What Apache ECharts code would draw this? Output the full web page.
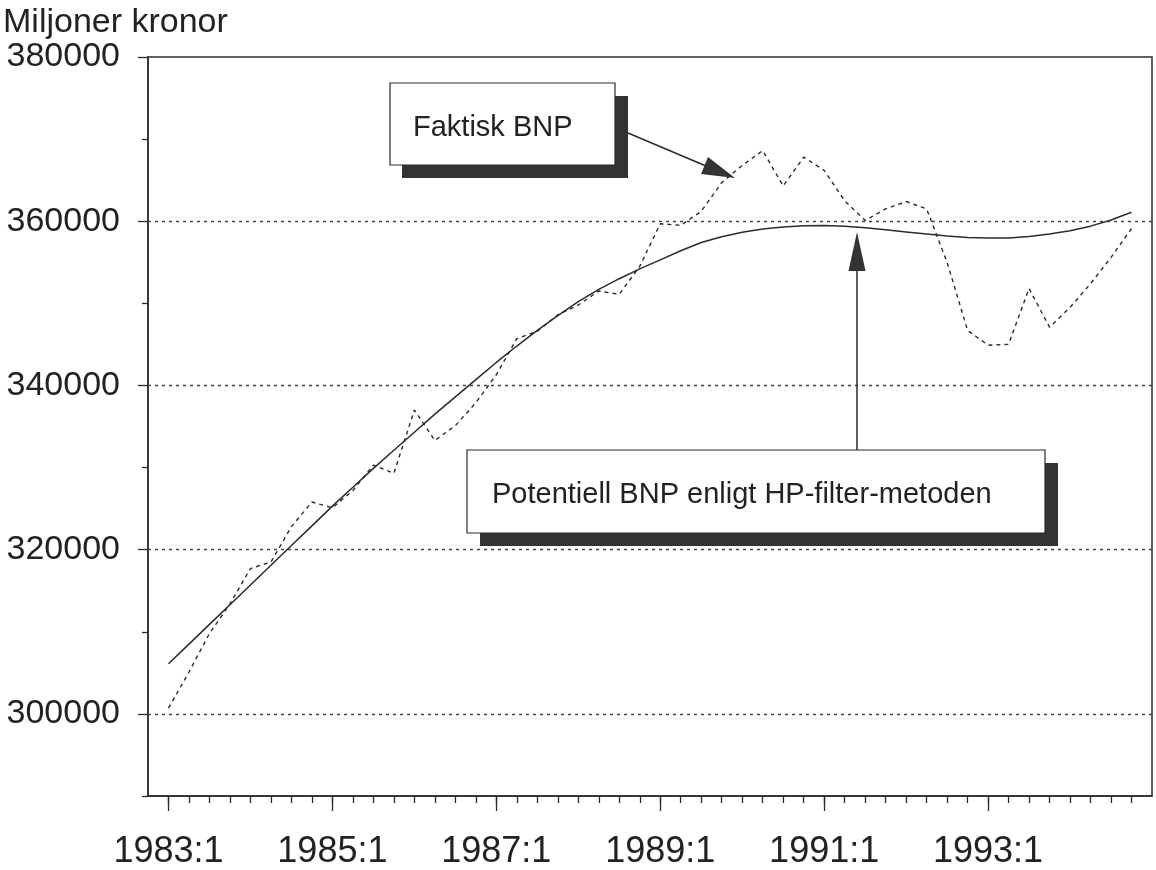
<!DOCTYPE html>
<html>
<head>
<meta charset="utf-8">
<script src="https://cdn.jsdelivr.net/npm/echarts@6/dist/echarts.min.js"></script>
<style>
html,body{margin:0;padding:0;background:#fff;}
#chart{width:1156px;height:870px;}
</style>
</head>
<body>
<div id="chart"></div>
<script>
// ---- data ----
const quarters = [];
for (let y = 1983; y <= 1994; y++) { for (let q = 1; q <= 4; q++) quarters.push(y + ':' + q); }
const faktisk = [
  300700, 305100, 309800, 313400, 317700, 318500, 322800, 325800,
  325100, 327200, 330300, 329300, 337000, 333300, 335100, 337900,
  341300, 345700, 346600, 348600, 349800, 351500, 351100, 354500,
  359700, 359500, 361200, 364700, 366800, 368600, 364300, 367800,
  366200, 362500, 360100, 361500, 362400, 361500, 355000, 346700,
  344900, 345000, 351800, 347100, 349500, 352400, 355600, 359100
];
const potentiell = [
  306100, 308500, 310900, 313300, 315700, 318100, 320500, 322900,
  325300, 327600, 329900, 332100, 334300, 336500, 338600, 340700,
  342800, 344800, 346700, 348500, 350200, 351700, 353000, 354200,
  355300, 356400, 357400, 358100, 358650, 359050, 359300, 359450,
  359480, 359400, 359200, 358950, 358700, 358450, 358200, 358020,
  357950, 357970, 358150, 358450, 358850, 359400, 360150, 361100
];
const xTickLabels = ['1983:1', '1985:1', '1987:1', '1989:1', '1991:1', '1993:1'];
const yTickLabels = [300000, 320000, 340000, 360000, 380000];
const yMinorTicks = [290000, 310000, 330000, 350000, 370000];
const gridValues = [300000, 320000, 340000, 360000];
const yTitle = 'Miljoner kronor';
const labelFaktisk = 'Faktisk BNP';
const labelPotentiell = 'Potentiell BNP enligt HP-filter-metoden';

// ---- chart ----
const INK = '#2b2b2b';
const FONT = '"Liberation Sans", Arial, Helvetica, sans-serif';
const majorIdx = xTickLabels.map(l => quarters.indexOf(l));
const allIdx = quarters.map((q, i) => i);

const chart = echarts.init(document.getElementById('chart'), null, { renderer: 'canvas' });
const axisLineStyle = { color: INK, width: 1.5 };

chart.setOption({
  animation: false,
  backgroundColor: '#fff',
  title: {
    text: yTitle, left: -2, top: 1,
    textStyle: { fontFamily: FONT, fontSize: 34, fontWeight: 'normal', color: '#222' }
  },
  grid: { left: 148, right: 4, top: 57, bottom: 74, show: true, borderColor: INK, borderWidth: 1.5, containLabel: false },
  xAxis: [
    {
      type: 'value', min: -1, max: 48, position: 'bottom',
      axisLine: { show: true, onZero: false, lineStyle: axisLineStyle },
      axisTick: { show: true, customValues: allIdx, length: 7, lineStyle: { color: INK, width: 1.3 } },
      axisLabel: { show: false },
      splitLine: { show: false }
    },
    {
      type: 'value', min: -1, max: 48, position: 'bottom',
      axisLine: { show: false, onZero: false },
      axisTick: { show: true, customValues: majorIdx, length: 15, lineStyle: { color: INK, width: 1.3 } },
      axisLabel: {
        show: true, customValues: majorIdx, margin: 38,
        formatter: v => quarters[Math.round(v)] || '',
        fontFamily: FONT, fontSize: 36, color: '#222'
      },
      splitLine: { show: false }
    }
  ],
  yAxis: [
    {
      type: 'value', min: 290000, max: 380000, interval: 10000, position: 'left',
      axisLine: { show: true, onZero: false, lineStyle: axisLineStyle },
      axisTick: { show: true, customValues: yTickLabels, length: 10, lineStyle: { color: INK, width: 1.3 } },
      axisLabel: {
        show: true, customValues: yTickLabels, margin: 28,
        padding: [6, 0, 0, 0],
        formatter: v => String(v),
        fontFamily: FONT, fontSize: 34, color: '#222'
      },
      splitLine: { show: false }
    },
    {
      type: 'value', min: 290000, max: 380000, interval: 10000, position: 'left',
      axisLine: { show: false, onZero: false },
      axisTick: { show: true, customValues: yMinorTicks, length: 6, lineStyle: { color: INK, width: 1.3 } },
      axisLabel: { show: false },
      splitLine: { show: false }
    }
  ],
  series: [
    {
      name: labelPotentiell, type: 'line', xAxisIndex: 0, yAxisIndex: 0,
      data: potentiell.map((v, i) => [i, v]),
      showSymbol: false, smooth: false,
      lineStyle: { color: INK, width: 1.5 },
      markLine: {
        silent: true, symbol: ['none', 'none'], label: { show: false },
        lineStyle: { color: '#444', width: 1.3, type: [3, 4] },
        data: gridValues.map(v => ({ yAxis: v }))
      },
      z: 3
    },
    {
      name: labelFaktisk, type: 'line', xAxisIndex: 0, yAxisIndex: 0,
      data: faktisk.map((v, i) => [i, v]),
      showSymbol: false,
      lineStyle: { color: INK, width: 1.4, type: [4, 4] },
      z: 4
    }
  ],
  graphic: [
    // Box 1: Faktisk BNP
    { type: 'rect', shape: { x: 402, y: 96, width: 226, height: 82 }, style: { fill: '#333' }, z: 10 },
    { type: 'line', shape: { x1: 628, y1: 133, x2: 706, y2: 166 }, style: { stroke: INK, lineWidth: 1.5 }, z: 10 },
    { type: 'polygon', shape: { points: [[735, 178], [701, 174], [708, 157]] }, style: { fill: '#333' }, z: 10 },
    { type: 'rect', shape: { x: 390, y: 83, width: 225, height: 82 }, style: { fill: '#fff', stroke: INK, lineWidth: 1.2 }, z: 11 },
    { type: 'text', style: { text: labelFaktisk, x: 413, y: 128, font: '29px ' + FONT, fill: '#222', verticalAlign: 'middle' }, z: 12 },
    // Box 2: Potentiell BNP
    { type: 'line', shape: { x1: 857, y1: 450, x2: 857, y2: 268 }, style: { stroke: INK, lineWidth: 1.5 }, z: 10 },
    { type: 'polygon', shape: { points: [[857, 232], [848.5, 271], [865.5, 271]] }, style: { fill: '#333' }, z: 10 },
    { type: 'rect', shape: { x: 480, y: 463, width: 578, height: 83 }, style: { fill: '#333' }, z: 10 },
    { type: 'rect', shape: { x: 467, y: 450, width: 578, height: 83 }, style: { fill: '#fff', stroke: INK, lineWidth: 1.2 }, z: 11 },
    { type: 'text', style: { text: labelPotentiell, x: 492, y: 495, font: '29px ' + FONT, fill: '#222', verticalAlign: 'middle' }, z: 12 }
  ]
});
</script>
</body>
</html>
